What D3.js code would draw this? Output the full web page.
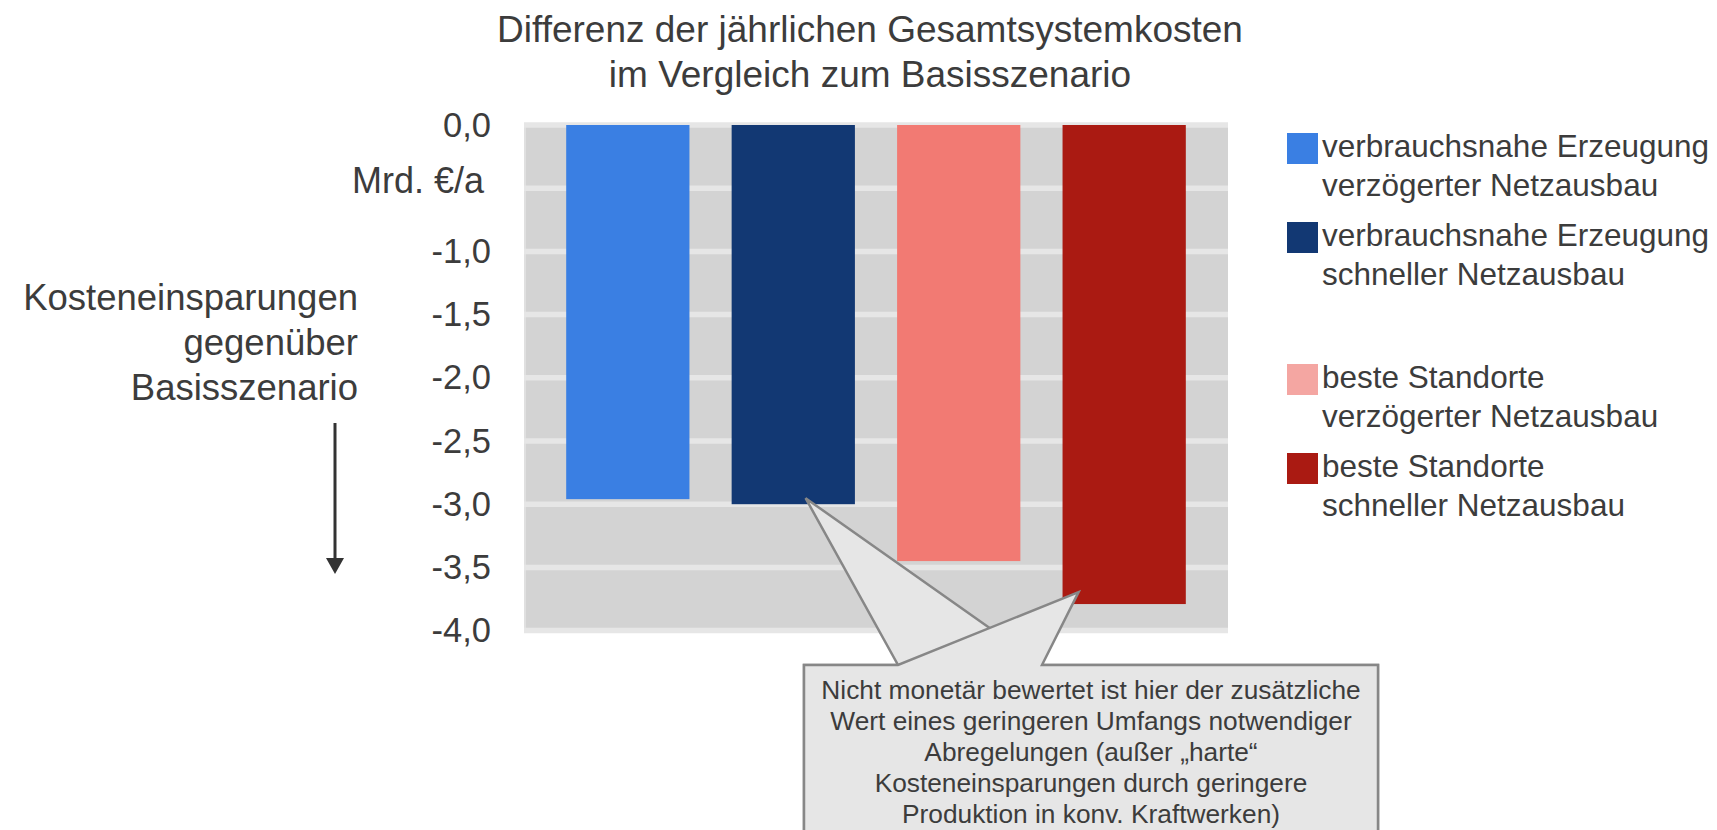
<!DOCTYPE html>
<html>
<head>
<meta charset="utf-8">
<script src="https://cdn.jsdelivr.net/npm/d3@7"></script>
<style>
  body { margin: 0; background: #fff; }
  svg text { font-family: Arial, "Liberation Sans", sans-serif; fill: #3c3c3c; }
</style>
</head>
<body>
<svg id="chart" width="1717" height="830"></svg>
<script>
// data
var scenarios = ["vn_verz", "vn_schnell", "bs_verz", "bs_schnell"];
var values = [-2.96, -3.00, -3.45, -3.79];
var legendLines = [
    ["verbrauchsnahe Erzeugung", "verzögerter Netzausbau"],
    ["verbrauchsnahe Erzeugung", "schneller Netzausbau"],
    ["beste Standorte", "verzögerter Netzausbau"],
    ["beste Standorte", "schneller Netzausbau"]
];
var barColors = ["#3a7fe3", "#123873", "#f27a73", "#aa1a12"];
var legendColors = ["#3a7fe3", "#123873", "#f4a6a2", "#aa1a12"];
var yTicks = [0, -0.5, -1, -1.5, -2, -2.5, -3, -3.5, -4];
var titleLines = ["Differenz der jährlichen Gesamtsystemkosten", "im Vergleich zum Basisszenario"];
var sideLines = ["Kosteneinsparungen", "gegenüber", "Basisszenario"];
var unitLabel = "Mrd. €/a";
var noteLines = [
    "Nicht monetär bewertet ist hier der zusätzliche",
    "Wert eines geringeren Umfangs notwendiger",
    "Abregelungen (außer „harte“",
    "Kosteneinsparungen durch geringere",
    "Produktion in konv. Kraftwerken)"
];

var svg = d3.select("#chart"),
    plot = {left: 524, right: 1228, top: 125, bottom: 630.6};

var x = d3.scaleBand()
    .domain(scenarios)
    .range([plot.left, plot.right])
    .padding(0.255);

var y = d3.scaleLinear()
    .domain([0, -4])
    .range([plot.top, plot.bottom]);

// title
svg.append("g")
    .selectAll("text")
    .data(titleLines)
    .enter().append("text")
    .attr("x", 870)
    .attr("y", function (d, i) { return 41.5 + i * 45; })
    .attr("text-anchor", "middle")
    .style("font-size", "37px")
    .text(function (d) { return d; });

// plot background + grid bands
svg.append("rect")
    .attr("x", plot.left)
    .attr("y", y(0))
    .attr("width", plot.right - plot.left)
    .attr("height", y(-4) - y(0))
    .attr("fill", "#d3d3d3");

svg.append("line")
    .attr("x1", plot.left + 1).attr("x2", plot.left + 1)
    .attr("y1", y(0)).attr("y2", y(-4))
    .attr("stroke", "#e0e0e0")
    .attr("stroke-width", 2);

svg.append("g")
    .attr("class", "grid")
    .selectAll("line")
    .data(yTicks)
    .enter().append("line")
    .attr("x1", plot.left)
    .attr("x2", plot.right)
    .attr("y1", function (d) { return y(d); })
    .attr("y2", function (d) { return y(d); })
    .attr("stroke", "#e6e6e6")
    .attr("stroke-width", 5.5);

// bars
svg.append("g")
    .selectAll("rect")
    .data(values)
    .enter().append("rect")
    .attr("x", function (d, i) { return x(scenarios[i]); })
    .attr("y", y(0))
    .attr("width", x.bandwidth())
    .attr("height", function (d) { return y(d) - y(0); })
    .attr("fill", function (d, i) { return barColors[i]; });

// y axis
var axis = svg.append("g")
    .attr("transform", "translate(" + plot.left + ",0)")
    .call(d3.axisLeft(y)
        .tickValues(yTicks)
        .tickSize(0)
        .tickPadding(33)
        .tickFormat(function (d) {
            if (d === -0.5) return "";
            return d.toFixed(1).replace(".", ",");
        }));
axis.select(".domain").remove();
axis.selectAll("text")
    .style("font-size", "34.5px")
    .style("font-family", "Arial, 'Liberation Sans', sans-serif")
    .attr("fill", "#3c3c3c");

svg.append("text")
    .attr("x", 484)
    .attr("y", y(-0.5) - 8)
    .attr("dy", "0.35em")
    .attr("text-anchor", "end")
    .style("font-size", "36px")
    .text(unitLabel);

// side label + arrow
svg.append("g")
    .selectAll("text")
    .data(sideLines)
    .enter().append("text")
    .attr("x", 358)
    .attr("y", function (d, i) { return 310 + i * 45; })
    .attr("text-anchor", "end")
    .style("font-size", "36.5px")
    .text(function (d) { return d; });

svg.append("line")
    .attr("x1", 335).attr("x2", 335)
    .attr("y1", 423).attr("y2", 560)
    .attr("stroke", "#333")
    .attr("stroke-width", 3);
svg.append("path")
    .attr("d", "M326,558L344,558L335,574Z")
    .attr("fill", "#333");

// legend
var legend = svg.append("g")
    .selectAll("g")
    .data(legendLines)
    .enter().append("g")
    .attr("transform", function (d, i) {
        return "translate(1287," + (133 + i * 89 + (i >= 2 ? 53 : 0)) + ")";
    });

legend.append("rect")
    .attr("width", 31)
    .attr("height", 31)
    .attr("fill", function (d, i) { return legendColors[i]; });

legend.selectAll("text")
    .data(function (d) { return d; })
    .enter().append("text")
    .attr("x", 35)
    .attr("y", function (d, i) { return 24 + i * 39; })
    .style("font-size", "31.5px")
    .text(function (d) { return d; });

// callout box with two pointers
var box = {left: 804, right: 1378, top: 665, bottom: 870, b1: 898, b2: 1042};
var tips = [
    [x(scenarios[1]) + x.bandwidth() * 0.6, y(values[1]) - 6],
    [x(scenarios[3]) + x.bandwidth() * 0.13, y(values[3]) - 12]
];

svg.append("g")
    .selectAll("path")
    .data(tips)
    .enter().append("path")
    .attr("d", function (t) {
        return "M" + box.left + "," + box.top +
            "L" + box.b1 + "," + box.top +
            "L" + t[0] + "," + t[1] +
            "L" + box.b2 + "," + box.top +
            "L" + box.right + "," + box.top +
            "L" + box.right + "," + box.bottom +
            "L" + box.left + "," + box.bottom + "Z";
    })
    .attr("fill", "#e6e6e6")
    .attr("stroke", "#878787")
    .attr("stroke-width", 2.5)
    .attr("stroke-linejoin", "miter");

svg.append("g")
    .selectAll("text")
    .data(noteLines)
    .enter().append("text")
    .attr("x", (box.left + box.right) / 2)
    .attr("y", function (d, i) { return 699 + i * 31; })
    .attr("text-anchor", "middle")
    .style("font-size", "26.3px")
    .text(function (d) { return d; });
</script>
</body>
</html>
